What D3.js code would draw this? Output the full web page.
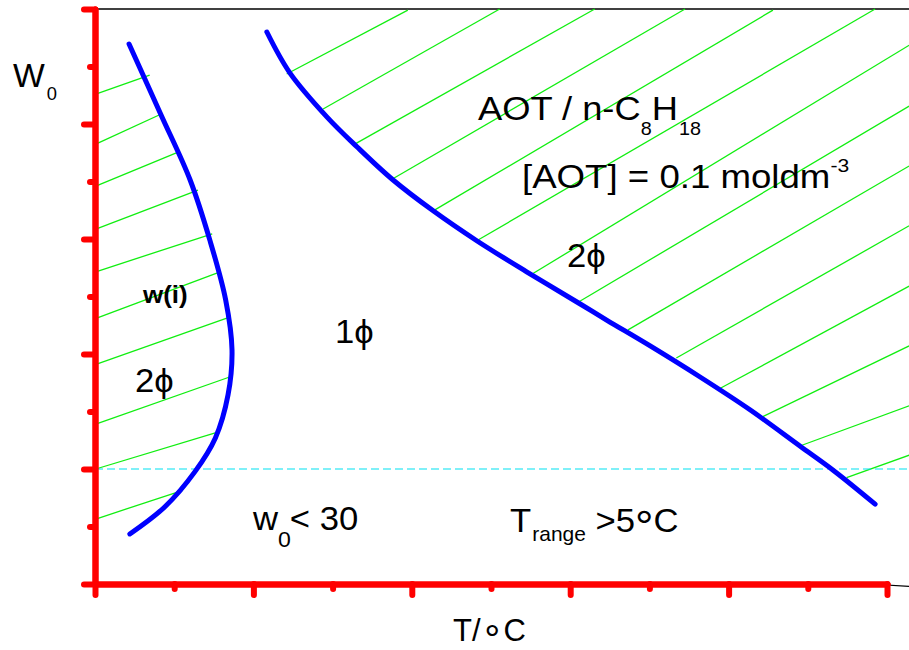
<!DOCTYPE html>
<html>
<head>
<meta charset="utf-8">
<script src="https://cdn.jsdelivr.net/npm/d3@7"></script>
<style>
  body { margin: 0; background: #fff; }
  text { font-family: "Liberation Sans", Arial, sans-serif; fill: #000; }
</style>
</head>
<body>
<div id="chart"></div>
<script>
// phase boundaries, in axis units (0..10 on both axes)
var leftBoundary = [
  [0.43, 9.39], [0.83, 8.17], [1.20, 7.03], [1.45, 5.98], [1.65, 4.94],
  [1.73, 4.07], [1.68, 3.29], [1.52, 2.54], [1.26, 1.95], [0.88, 1.34], [0.44, 0.87]
];
var rightBoundary = [
  [2.17, 9.60], [2.46, 8.89], [2.93, 8.12], [3.31, 7.60], [3.76, 7.03],
  [4.27, 6.49], [4.82, 5.97], [5.45, 5.43], [6.09, 4.90], [6.46, 4.59],
  [7.01, 4.14], [7.64, 3.60], [8.27, 3.03], [8.90, 2.40], [9.32, 1.98], [9.85, 1.39]
];

// hatching of the two-phase regions: [x1, y1, x2, y2]
var leftHatch = [
  [0.01, 8.52, 0.69, 8.85], [0.01, 7.65, 0.83, 8.17], [0.01, 6.92, 1.05, 7.51],
  [0.01, 6.17, 1.30, 6.85], [0.01, 5.43, 1.48, 6.09], [0.03, 4.63, 1.58, 5.43],
  [0.03, 3.83, 1.70, 4.64], [0.01, 2.78, 1.70, 3.60], [0.01, 2.00, 1.55, 2.64],
  [0.01, 1.13, 1.11, 1.63]
];
var rightHatch = [
  [2.42, 8.87, 3.95, 9.98], [2.88, 8.26, 5.11, 10.0], [3.28, 7.65, 6.31, 10.0],
  [3.75, 7.04, 7.45, 10.0], [4.27, 6.49, 8.56, 9.98], [4.82, 5.97, 9.85, 10.0],
  [5.53, 5.40, 10.28, 9.37], [6.10, 4.90, 10.28, 8.31], [6.73, 4.42, 10.28, 7.27],
  [7.34, 3.93, 10.28, 6.23], [7.89, 3.40, 10.28, 5.18], [8.40, 2.89, 10.28, 4.14],
  [8.90, 2.40, 10.28, 3.10], [9.49, 1.85, 10.28, 2.24]
];

var limitW = 2;        // dashed w0 = 30 level
var frameRight = 10.28;

var majorTicks = [0, 2, 4, 6, 8, 10];
var minorTicks = [1, 3, 5, 7, 9];

var svgWidth = 909;
var svgHeight = 650;

var x = d3.scaleLinear().domain([0, 10]).range([95, 887]);
var y = d3.scaleLinear().domain([0, 10]).range([584, 9]);

var svg = d3.select('#chart')
  .append('svg')
  .attr('width', svgWidth)
  .attr('height', svgHeight);

// thin black frame bits
svg.append('line')
  .attr('x1', x(0)).attr('y1', y(10))
  .attr('x2', x(frameRight)).attr('y2', y(10))
  .attr('stroke', '#000').attr('stroke-width', 1.5);
svg.append('line')
  .attr('x1', x(9.78)).attr('y1', y(0))
  .attr('x2', x(frameRight)).attr('y2', y(-0.04))
  .attr('stroke', '#000').attr('stroke-width', 1.2);

// hatching
svg.append('g')
  .selectAll('line')
  .data(leftHatch.concat(rightHatch))
  .enter()
  .append('line')
  .attr('x1', function(d) { return x(d[0]); })
  .attr('y1', function(d) { return y(d[1]); })
  .attr('x2', function(d) { return x(d[2]); })
  .attr('y2', function(d) { return y(d[3]); })
  .attr('stroke', '#11ee11')
  .attr('stroke-width', 1.3);

// dashed level
svg.append('line')
  .attr('x1', x(0)).attr('y1', y(limitW))
  .attr('x2', x(frameRight)).attr('y2', y(limitW))
  .attr('stroke', '#00e2f2')
  .attr('stroke-width', 1.2)
  .attr('stroke-dasharray', '8,4');

// boundaries
var line = d3.line()
  .x(function(d) { return x(d[0]); })
  .y(function(d) { return y(d[1]); })
  .curve(d3.curveCatmullRom);

svg.selectAll('.boundary')
  .data([leftBoundary, rightBoundary])
  .enter()
  .append('path')
  .attr('class', 'boundary')
  .attr('d', line)
  .attr('fill', 'none')
  .attr('stroke', '#0000ff')
  .attr('stroke-width', 5)
  .attr('stroke-linecap', 'round');

// red axes, major and minor ticks
function styleAxis(g) {
  g.selectAll('path, line')
    .attr('stroke', '#ff0000')
    .attr('stroke-width', 6)
    .attr('stroke-linecap', 'round');
}

svg.append('g')
  .attr('transform', 'translate(' + x(0) + ',0)')
  .call(d3.axisLeft(y).tickValues(minorTicks).tickSize(5).tickSizeOuter(0).tickFormat(''))
  .call(styleAxis);
svg.append('g')
  .attr('transform', 'translate(' + x(0) + ',0)')
  .call(d3.axisLeft(y).tickValues(majorTicks).tickSize(11).tickSizeOuter(0).tickFormat(''))
  .call(styleAxis);
svg.append('g')
  .attr('transform', 'translate(0,' + y(0) + ')')
  .call(d3.axisBottom(x).tickValues(minorTicks).tickSize(5).tickSizeOuter(0).tickFormat(''))
  .call(styleAxis);
svg.append('g')
  .attr('transform', 'translate(0,' + y(0) + ')')
  .call(d3.axisBottom(x).tickValues(majorTicks).tickSize(11).tickSizeOuter(0).tickFormat(''))
  .call(styleAxis);

// labels (the original lettering is a little wider than Arial)
function label(px, py, size, parts, weight, sx) {
  var t = svg.append('text')
    .attr('transform', 'translate(' + px + ',' + py + ') scale(' + (sx || 1.1) + ',1)')
    .style('font-size', size + 'px')
    .style('font-weight', weight || 'normal');
  parts.forEach(function(p) {
    var s = t.append('tspan').text(p.t);
    if (p.size) s.style('font-size', p.size + 'px');
    if (p.dy) s.attr('dy', p.dy);
    if (p.dx) s.attr('dx', p.dx);
  });
  return t;
}

label(13, 87, 33, [{ t: 'W' }, { t: '0', size: 18, dy: 13, dx: 2 }], null, 1.02);
label(478, 120, 33, [{ t: 'AOT / n-C' }, { t: '8', size: 18, dy: 15 }, { t: 'H', dy: -15 }, { t: '18', size: 18, dy: 15, dx: 1 }]);
label(522, 188, 33, [{ t: '[AOT] = 0.1 moldm' }, { t: '-3', size: 19, dy: -16 }], null, 1.11);
label(567, 267, 33, [{ t: '2ϕ' }], null, 1.05);
label(335, 343, 33, [{ t: '1ϕ' }], null, 1.05);
label(143, 303, 24, [{ t: 'w(i)' }], 'bold', 1.08);
label(135, 392, 33, [{ t: '2ϕ' }], null, 1.05);
label(253, 530, 33, [{ t: 'w' }, { t: '0', size: 22, dy: 17 }, { t: '< 30', dy: -17, dx: -1 }], null, 1.05);
label(510, 532, 33, [{ t: 'T' }, { t: 'range', size: 20, dy: 9, dx: 1 }, { t: ' >5', dy: -9 }, { t: '°', size: 44, dy: 10 }, { t: 'C', dy: -10 }], null, 1.05);
label(453, 641, 31, [{ t: 'T/' }, { t: '∘', size: 36 }, { t: 'C' }], null, 1.0);
</script>
</body>
</html>
